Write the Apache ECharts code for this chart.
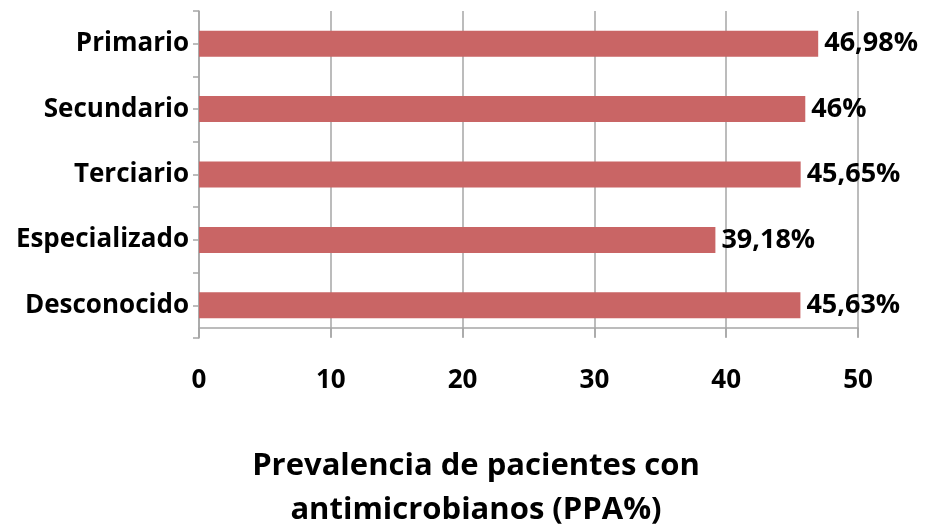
<!DOCTYPE html>
<html>
<head>
<meta charset="utf-8">
<script src="https://cdn.jsdelivr.net/npm/echarts@6/dist/echarts.min.js"></script>
<style>
html,body{margin:0;padding:0;background:#fff;}
#c{width:928px;height:526px;}
</style>
</head>
<body>
<div id="c"></div>
<script>
const categories = ['Primario', 'Secundario', 'Terciario', 'Especializado', 'Desconocido'];
const values = [46.98, 46, 45.65, 39.18, 45.63];
const valueLabels = ['46,98%', '46%', '45,65%', '39,18%', '45,63%'];
const xMin = 0, xMax = 50, xStep = 10;
const axisTitle = 'Prevalencia de pacientes con\nantimicrobianos (PPA%)';

const FONT = '"Open Sans", Lato, sans-serif';
const GREY = '#a6a6a6';
const chart = echarts.init(document.getElementById('c'));
chart.setOption({
  animation: false,
  grid: { left: 199, right: 70, top: 11, bottom: 188, containLabel: false },
  xAxis: {
    type: 'value', min: xMin, max: xMax, interval: xStep, offset: -10,
    axisLine: { show: true, lineStyle: { color: GREY, width: 1.5 } },
    axisTick: { show: true, length: 9, lineStyle: { color: GREY, width: 1.5 } },
    splitLine: { show: true, lineStyle: { color: GREY, width: 1.5 } },
    axisLabel: { color: '#000', fontFamily: FONT, fontWeight: 'bold', fontSize: 26, margin: 40 }
  },
  yAxis: [{
    type: 'category', data: categories, inverse: true,
    axisLine: { show: true, lineStyle: { color: GREY, width: 1.5 } },
    axisTick: { show: true, length: 6, lineStyle: { color: GREY, width: 1.5 } },
    axisLabel: { color: '#000', fontFamily: FONT, fontWeight: 'bold', fontSize: 26, margin: 10 }
  }, {
    type: 'category', data: categories, inverse: true, position: 'left',
    axisLine: { show: false },
    axisTick: { show: true, alignWithLabel: true, length: 6, lineStyle: { color: GREY, width: 1.5 } },
    axisLabel: { show: false }
  }],
  series: [{
    type: 'bar', data: values, yAxisIndex: 0, barWidth: 26,
    itemStyle: { color: '#c96565' },
    label: {
      show: true, position: 'right', distance: 6,
      color: '#000', fontFamily: FONT, fontWeight: 'bold', fontSize: 27,
      formatter: p => valueLabels[p.dataIndex]
    }
  }],
  graphic: [{
    type: 'text', x: 476, y: 444,
    style: { text: axisTitle, textAlign: 'center', textVerticalAlign: 'top', fill: '#000',
             font: 'bold 31px ' + FONT, lineHeight: 44 }
  }]
});
</script>
</body>
</html>
